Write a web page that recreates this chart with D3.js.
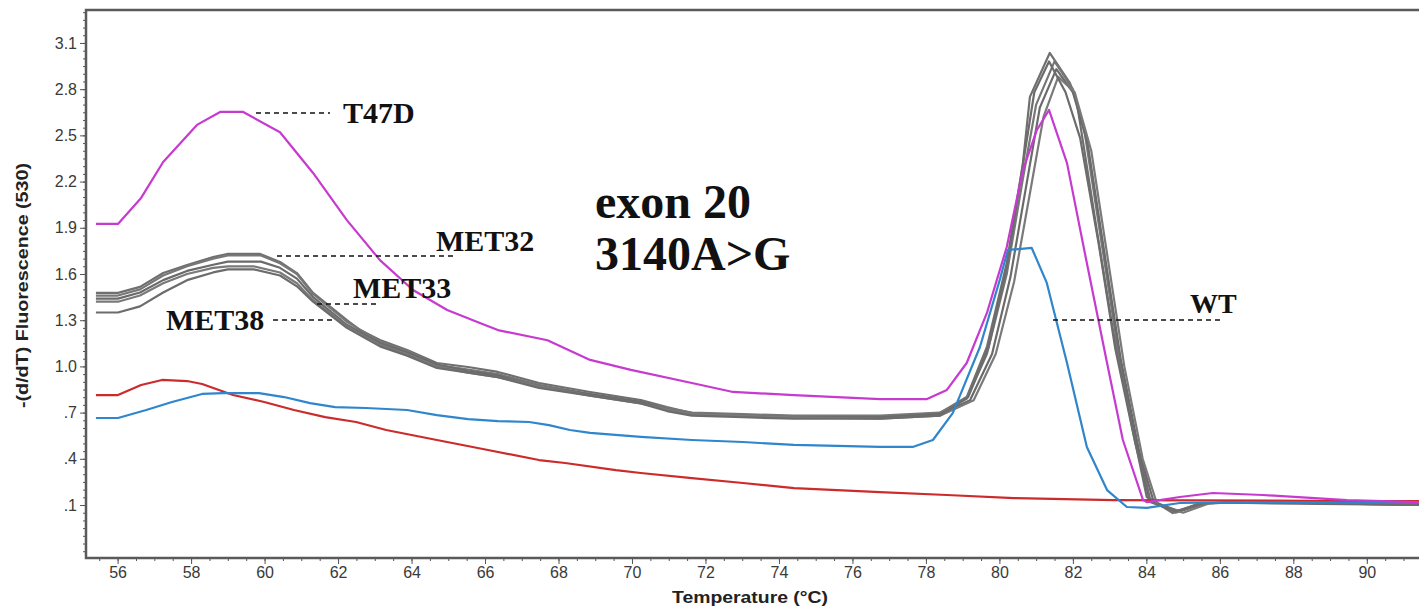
<!DOCTYPE html>
<html>
<head>
<meta charset="utf-8">
<script src="https://cdn.jsdelivr.net/npm/d3@7"></script>
<style>
  body { margin: 0; background: #fff; }
  .tick text { font-family: "Liberation Sans", Arial, sans-serif; font-size: 16px; fill: #3a3a3a; }
  .domain { display: none; }
  .lbl { font-family: "Liberation Serif", "Times New Roman", serif; font-weight: bold; fill: #111; }
</style>
</head>
<body>
<div id="chart"></div>
<script>
// melting curves, [temperature, -(d/dT) fluorescence]
var t47d = [[55.41,1.925],[56.01,1.925],[56.64,2.094],[57.24,2.327],[58.16,2.568],[58.79,2.652],[59.42,2.652],[60.42,2.52],[61.32,2.256],[62.24,1.95],[63.14,1.69],[64.04,1.496],[64.97,1.366],[65.86,1.282],[66.35,1.236],[67.7,1.17],[68.86,1.042],[69.97,0.977],[71.63,0.892],[72.75,0.834],[74.41,0.814],[76.75,0.788],[78.03,0.788],[78.57,0.847],[79.11,1.022],[79.66,1.347],[80.2,1.775],[80.64,2.275],[81.02,2.535],[81.35,2.665],[81.84,2.32],[82.38,1.671],[82.93,1.022],[83.36,0.522],[83.91,0.132],[84.01,0.119],[84.91,0.152],[85.81,0.178],[87.17,0.165],[89.46,0.132],[91.42,0.119]];

var met32 = [[55.41,1.477],[56.01,1.477],[56.61,1.516],[57.24,1.606],[57.89,1.658],[58.6,1.71],[58.98,1.73],[59.88,1.73],[60.42,1.678],[60.88,1.606],[61.32,1.477],[62.24,1.30],[62.6,1.236],[63.14,1.171],[63.88,1.106],[64.69,1.022],[65.54,0.996],[66.35,0.964],[67.47,0.892],[68.86,0.834],[70.24,0.782],[70.95,0.736],[71.63,0.697],[73.02,0.684],[74.41,0.671],[76.75,0.671],[78.38,0.697],[79.11,0.801],[79.66,1.126],[80.2,1.671],[80.64,2.32],[80.83,2.75],[81.37,3.035],[81.92,2.84],[82.11,2.71],[82.65,1.886],[83.09,1.236],[83.63,0.587],[84.01,0.152],[84.72,0.048],[85.46,0.113],[86.73,0.113],[91.42,0.10]];

var met33 = [[55.41,1.46],[56.01,1.46],[56.61,1.50],[57.24,1.59],[57.89,1.65],[58.6,1.70],[59.0,1.72],[59.9,1.72],[60.42,1.67],[60.88,1.60],[61.32,1.47],[62.24,1.29],[63.14,1.16],[63.88,1.10],[64.69,1.01],[65.54,0.98],[66.35,0.95],[67.47,0.88],[68.86,0.82],[70.24,0.77],[70.95,0.73],[71.63,0.70],[73.02,0.69],[74.41,0.68],[76.75,0.68],[78.38,0.70],[79.11,0.79],[79.66,1.08],[80.2,1.60],[80.64,2.22],[81.0,2.70],[81.5,2.98],[82.0,2.80],[82.3,2.55],[82.75,1.85],[83.2,1.15],[83.7,0.55],[84.1,0.14],[84.8,0.05],[85.5,0.11],[86.7,0.12],[91.42,0.11]];

var met34 = [[55.41,1.44],[56.01,1.44],[56.61,1.48],[57.24,1.56],[57.89,1.62],[58.6,1.66],[59.0,1.68],[59.9,1.68],[60.42,1.64],[60.88,1.57],[61.32,1.45],[62.24,1.27],[63.14,1.15],[63.88,1.09],[64.69,1.01],[65.54,0.97],[66.35,0.94],[67.47,0.87],[68.86,0.82],[70.24,0.77],[70.95,0.72],[71.63,0.69],[73.02,0.68],[74.41,0.67],[76.75,0.67],[78.38,0.69],[79.2,0.78],[79.8,1.08],[80.3,1.58],[80.75,2.20],[81.1,2.68],[81.55,2.93],[82.0,2.78],[82.4,2.45],[82.85,1.75],[83.3,1.05],[83.8,0.45],[84.2,0.12],[84.9,0.06],[85.6,0.11],[86.7,0.12],[91.42,0.10]];

var met35 = [[55.41,1.42],[56.01,1.42],[56.61,1.46],[57.24,1.54],[57.89,1.60],[58.6,1.64],[59.0,1.65],[59.7,1.65],[60.42,1.61],[60.88,1.54],[61.32,1.43],[62.24,1.26],[63.14,1.14],[63.88,1.08],[64.69,1.00],[65.54,0.96],[66.35,0.93],[67.47,0.87],[68.86,0.81],[70.24,0.76],[70.95,0.72],[71.63,0.69],[73.02,0.68],[74.41,0.67],[76.75,0.66],[78.38,0.68],[79.3,0.78],[79.9,1.08],[80.4,1.55],[80.85,2.15],[81.2,2.62],[81.6,2.88],[82.05,2.78],[82.5,2.40],[82.95,1.70],[83.4,1.00],[83.9,0.40],[84.3,0.10],[85.0,0.05],[85.7,0.11],[86.7,0.12],[91.42,0.11]];

var met38 = [[55.41,1.35],[56.01,1.35],[56.61,1.39],[57.24,1.48],[57.89,1.56],[58.6,1.61],[59.0,1.63],[59.7,1.63],[60.42,1.59],[60.88,1.52],[61.32,1.42],[62.24,1.25],[63.14,1.13],[63.88,1.07],[64.69,0.99],[65.54,0.96],[66.35,0.93],[67.47,0.86],[68.86,0.81],[70.24,0.76],[70.95,0.71],[71.63,0.68],[73.02,0.67],[74.41,0.66],[76.75,0.66],[78.38,0.68],[79.15,0.80],[79.7,1.12],[80.2,1.64],[80.6,2.25],[80.95,2.78],[81.35,2.98],[81.8,2.78],[82.2,2.48],[82.7,1.80],[83.15,1.12],[83.7,0.50],[84.1,0.12],[84.8,0.06],[85.5,0.11],[86.7,0.12],[91.42,0.10]];

var redCurve = [[55.41,0.814],[56.01,0.814],[56.64,0.879],[57.21,0.912],[57.89,0.905],[58.3,0.886],[59.14,0.814],[59.99,0.769],[60.8,0.717],[61.65,0.671],[62.49,0.639],[63.31,0.587],[64.69,0.522],[66.08,0.457],[67.47,0.392],[68.18,0.373],[69.56,0.327],[70.24,0.308],[71.63,0.275],[73.02,0.243],[74.41,0.21],[76.75,0.184],[78.57,0.165],[80.4,0.145],[83.1,0.132],[89.46,0.126],[91.42,0.126]];

var wt = [[55.41,0.665],[56.01,0.665],[56.78,0.717],[57.48,0.769],[58.3,0.821],[58.87,0.827],[59.85,0.827],[60.53,0.801],[61.24,0.762],[61.92,0.736],[62.76,0.73],[63.88,0.717],[64.69,0.684],[65.54,0.658],[66.35,0.645],[67.2,0.639],[67.74,0.619],[68.31,0.587],[68.86,0.568],[70.24,0.542],[71.63,0.522],[73.02,0.509],[74.41,0.49],[76.75,0.477],[77.64,0.477],[78.19,0.522],[78.73,0.697],[79.47,1.126],[80.01,1.562],[80.23,1.756],[80.88,1.769],[81.29,1.542],[81.84,1.022],[82.38,0.477],[82.93,0.197],[83.47,0.087],[84.01,0.081],[84.91,0.113],[86.73,0.119],[91.42,0.113]];

var xTicks = [56, 58, 60, 62, 64, 66, 68, 70, 72, 74, 76, 78, 80, 82, 84, 86, 88, 90];
var yTicks = [0.1, 0.4, 0.7, 1.0, 1.3, 1.6, 1.9, 2.2, 2.5, 2.8, 3.1];
var yTickLabels = [".1", ".4", ".7", "1.0", "1.3", "1.6", "1.9", "2.2", "2.5", "2.8", "3.1"];

(function() {
    // which curve gets which colour, greys drawn first
    var curves = [
      { data: met32, color: "#6f6f6f" },
      { data: met33, color: "#777777" },
      { data: met34, color: "#6a6a6a" },
      { data: met35, color: "#7a7a7a" },
      { data: met38, color: "#6c6c6c" },
      { data: redCurve, color: "#cc2b2b" },
      { data: wt, color: "#2f86cc" },
      { data: t47d, color: "#c63ad0" }
    ];

    var width = 1419, height = 608;
    var m = { left: 86, top: 10, bottom: 558, right: 1419 };

    var svg = d3.select("#chart")
                .append("svg")
                .attr("width", width)
                .attr("height", height);

    var x = d3.scaleLinear().domain([55.14, 91.42]).range([m.left, m.right]);
    var y = d3.scaleLinear().domain([-0.244, 3.314]).range([m.bottom, m.top]);

    svg.append("clipPath").attr("id", "clip")
       .append("rect")
       .attr("x", m.left).attr("y", m.top)
       .attr("width", m.right - m.left).attr("height", m.bottom - m.top);

    // minor ticks
    svg.append("g")
       .attr("transform", "translate(0," + m.bottom + ")")
       .call(d3.axisBottom(x).tickValues(d3.range(55.5, 91.5, 0.5)).tickSize(3).tickFormat(""))
       .selectAll("line").attr("stroke", "#555");
    svg.append("g")
       .attr("transform", "translate(" + m.left + ",0)")
       .call(d3.axisLeft(y).tickValues(d3.range(-0.2, 3.31, 0.05)).tickSize(3).tickFormat(""))
       .selectAll("line").attr("stroke", "#555");

    // major ticks + labels
    var xAxis = svg.append("g")
       .attr("transform", "translate(0," + m.bottom + ")")
       .call(d3.axisBottom(x).tickValues(xTicks).tickSize(6).tickPadding(3).tickFormat(d3.format("d")));
    xAxis.selectAll("line").attr("stroke", "#555");

    var yAxis = svg.append("g")
       .attr("transform", "translate(" + m.left + ",0)")
       .call(d3.axisLeft(y).tickValues(yTicks).tickSize(6).tickPadding(3)
             .tickFormat(function(d, i) { return yTickLabels[i]; }));
    yAxis.selectAll("line").attr("stroke", "#555");

    // frame: top, left, bottom only (right edge runs off the picture)
    svg.append("path")
       .attr("d", "M" + m.right + "," + m.top + "H" + m.left + "V" + m.bottom + "H" + m.right)
       .attr("fill", "none")
       .attr("stroke", "#5a5a5a")
       .attr("stroke-width", 2.5);

    var line = d3.line()
                 .x(function(d) { return x(d[0]); })
                 .y(function(d) { return y(d[1]); });

    svg.append("g")
       .attr("clip-path", "url(#clip)")
       .selectAll(".curve")
       .data(curves)
       .enter().append("path")
       .attr("class", "curve")
       .attr("d", function(d) { return line(d.data); })
       .attr("fill", "none")
       .attr("stroke", function(d) { return d.color; })
       .attr("stroke-width", 2.2)
       .attr("stroke-linejoin", "round");

    // axis titles (stretched a bit, the original font is wider)
    svg.append("text")
       .attr("x", 672).attr("y", 603)
       .attr("textLength", 156)
       .attr("lengthAdjust", "spacingAndGlyphs")
       .style("font-family", "Liberation Sans, Arial, sans-serif")
       .style("font-weight", "bold")
       .style("font-size", "16px")
       .style("fill", "#222")
       .text("Temperature (°C)");

    svg.append("text")
       .attr("transform", "translate(28,408) rotate(-90)")
       .attr("textLength", 245)
       .attr("lengthAdjust", "spacingAndGlyphs")
       .style("font-family", "Liberation Sans, Arial, sans-serif")
       .style("font-weight", "bold")
       .style("font-size", "16px")
       .style("fill", "#222")
       .text("-(d/dT) Fluorescence (530)");

    // sample labels with dashed leaders
    var labels = [
      { text: "T47D", tx: 343, ty: 123, size: 30, x1: 256, x2: 330, ly: 113 },
      { text: "MET32", tx: 436, ty: 251, size: 30, x1: 277, x2: 457, ly: 256 },
      { text: "MET33", tx: 353, ty: 298, size: 30, x1: 317, x2: 380, ly: 304 },
      { text: "MET38", tx: 166, ty: 330, size: 30, x1: 273, x2: 333, ly: 320 },
      { text: "WT", tx: 1190, ty: 313, size: 28, x1: 1053, x2: 1222, ly: 320 }
    ];

    svg.selectAll(".leader")
       .data(labels)
       .enter().append("line")
       .attr("class", "leader")
       .attr("x1", function(d) { return d.x1; })
       .attr("x2", function(d) { return d.x2; })
       .attr("y1", function(d) { return d.ly; })
       .attr("y2", function(d) { return d.ly; })
       .attr("stroke", "#111")
       .attr("stroke-width", 1.3)
       .attr("stroke-dasharray", "5,4");

    svg.selectAll(".lbl")
       .data(labels)
       .enter().append("text")
       .attr("class", "lbl")
       .attr("x", function(d) { return d.tx; })
       .attr("y", function(d) { return d.ty; })
       .style("font-size", function(d) { return d.size + "px"; })
       .text(function(d) { return d.text; });

    svg.append("text").attr("class", "lbl")
       .attr("x", 595).attr("y", 218)
       .style("font-size", "48px")
       .text("exon 20");
    svg.append("text").attr("class", "lbl")
       .attr("x", 595).attr("y", 270)
       .style("font-size", "48px")
       .text("3140A>G");
})();
</script>
</body>
</html>
